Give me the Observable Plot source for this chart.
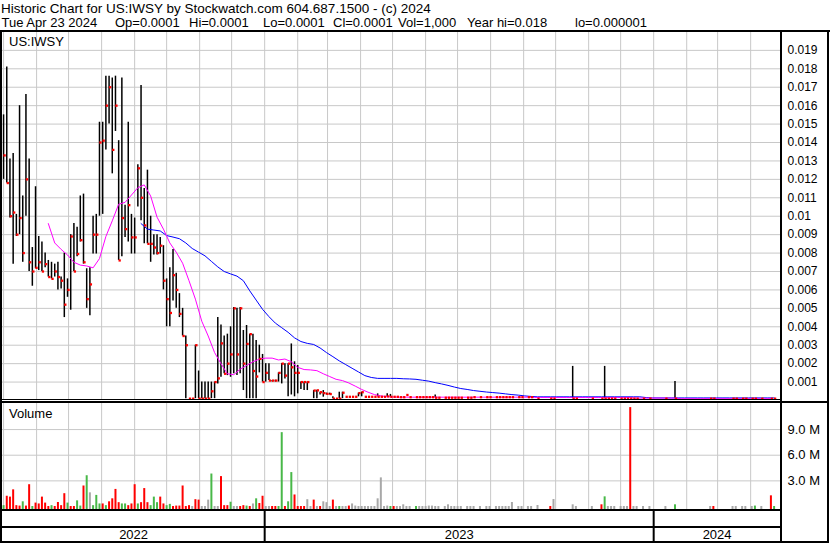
<!DOCTYPE html>
<html><head><meta charset="utf-8">
<script src="https://cdn.jsdelivr.net/npm/d3@7"></script>
<script src="https://cdn.jsdelivr.net/npm/@observablehq/plot@0.6"></script>
<style>
html,body{margin:0;padding:0;background:#fff;}
#wrap{position:relative;width:830px;height:543px;overflow:hidden;font-family:"Liberation Sans",Arial,sans-serif;color:#000;background:#fff;}
.ln{position:absolute;background:#000;}
.t{position:absolute;white-space:pre;line-height:13px;font-size:13.5px;}
.t2{position:absolute;white-space:pre;line-height:13px;font-size:13px;}
.lbl{position:absolute;white-space:pre;line-height:13px;font-size:13px;}
</style></head><body><div id="wrap"></div>
<script>
const _ = null;

// ---- header texts ----
const titleLine = "Historic Chart for US:IWSY by Stockwatch.com 604.687.1500 - (c) 2024";
const infoItems = ["Tue Apr 23 2024", "Op=0.0001", "Hi=0.0001", "Lo=0.0001", "Cl=0.0001", "Vol=1,000", "Year hi=0.018", "lo=0.000001"];
const symbolLabel = "US:IWSY";
const volumeLabel = "Volume";

// ---- bars: one every 3 calendar days starting 2022-05-01 (prices in units of 0.001) ----
const hiMil = [
15.5,18.1,13.1,13.4,10.1,16.0,11.1,16.6,13.1,8.3,
11.6,8.9,8.6,8.0,7.6,7.5,7.4,7.5,6.7,8.0,
6.6,9.0,9.6,9.4,11.1,11.2,7.15,7.2,10.0,10.1,
15.1,15.1,17.6,17.6,17.5,17.6,14.1,17.5,10.6,15.1,
10.1,9.9,12.8,17.1,11.5,12.5,10.0,9.0,9.0,8.85,
8.4,6.6,7.2,8.2,6.9,5.8,5.0,3.5,0.1,0.1,
3.0,1.6,1.0,1.0,1.0,1.0,1.0,4.5,4.1,3.5,
3.6,4.0,5.05,5.0,5.05,3.8,4.07,3.6,3.6,3.25,
3.0,2.5,2.0,2.0,1.08,1.1,1.5,2.0,2.0,2.0,
3.07,2.1,1.9,1.0,1.0,1.0,_,0.54,0.55,0.45,
0.54,0.4,0.4,0.2,0.1,0.45,0.45,0.2,0.2,0.2,
0.2,0.4,0.45,0.2,0.2,0.2,0.2,0.36,0.2,0.2,
0.36,0.33,0.2,0.2,
.18,.18,.3,.18,_,.18,.18,.18,.18,.18,
.18,.3,.15,_,.15,.15,.15,.15,.15,.15,
_,.15,.15,.18,_,.18,_,.18,.18,_,
.18,.18,.18,.18,.18,.18,_,.18,.18,_,
.18,.18,_,.1,_,_,_,.1,.1,_,
_,_,_,_,1.85,.1,_,_,_,_,
.1,_,_,.1,1.85,.1,.1,.1,_,.1,
.1,.1,.1,.1,.1,_,.1,_,.1,_,
_,_,_,.1,_,_,1.03,_,_,_,
_,_,_,_,_,_,_,.1,.1,_,
_,_,_,_,.1,.1,_,.1,.1,_,
.1,.1,_,.1,_,_,.1,.1];
const loMil = [
12.0,11.8,9.9,7.4,8.9,9.0,7.5,10.0,7.0,6.2,
7.15,7.05,7.0,7.2,6.7,6.6,6.7,6.0,6.05,4.5,
5.6,4.9,7.0,7.8,8.6,7.4,5.0,4.6,7.95,7.95,
10.0,10.1,13.6,15.0,12.3,14.6,7.6,7.8,8.85,8.6,
7.95,7.95,10.5,9.75,8.5,8.5,7.5,7.9,7.9,7.95,
6.0,4.0,4.0,5.4,5.0,4.5,3.5,0.1,0.1,0.1,
0.1,0.1,0.1,0.1,0.1,0.1,0.1,0.9,1.26,1.45,
1.35,1.26,1.45,1.35,1.45,0.54,0.1,0.1,0.1,0.1,
1.5,1.0,1.0,1.08,1.0,1.0,1.0,0.9,1.17,0.2,
0.3,0.2,0.36,0.6,0.54,0.54,_,0.1,0.1,0.3,
0.18,0.3,0.3,0.1,0.1,0.1,0.1,0.2,0.2,0.2,
0.2,0.2,0.2,0.2,0.2,0.2,0.2,0.2,0.2,0.2,
0.2,0.2,0.2,0.2,
.18,.18,.3,.18,_,.18,.18,.18,.18,.18,
.18,.15,.15,_,.15,.15,.15,.15,.15,.15,
_,.15,.15,.18,_,.18,_,.18,.18,_,
.18,.18,.18,.18,.18,.18,_,.18,.18,_,
.18,.18,_,.1,_,_,_,.1,.1,_,
_,_,_,_,.1,.1,_,_,_,_,
.1,_,_,.1,.1,.1,.1,.1,_,.1,
.1,.1,.1,.1,.1,_,.1,_,.1,_,
_,_,_,.1,_,_,.1,_,_,_,
_,_,_,_,_,_,_,.1,.1,_,
_,_,_,_,.1,.1,_,.1,.1,_,
.1,.1,_,.1,_,_,.1,.1];
const clMil = [
13.3,11.8,10.0,10.2,9.0,9.9,8.0,12.0,7.5,7.0,
7.2,7.5,7.0,7.4,6.7,6.6,7.0,6.7,6.5,5.2,
6.0,8.9,7.0,7.95,8.7,7.5,5.5,6.3,9.0,9.0,
14.0,14.1,16.0,17.0,13.6,16.0,7.6,9.9,9.3,10.6,
8.85,8.85,12.6,11.0,9.5,8.5,8.5,8.3,8.0,8.4,
6.5,5.5,4.75,6.8,6.0,4.7,3.5,3.0,0.1,0.1,
3.0,0.1,0.1,0.1,0.1,0.5,1.0,1.2,3.1,1.45,
2.0,2.5,5.0,2.5,5.0,2.0,3.07,3.6,1.6,1.3,
2.26,1.0,1.5,1.08,1.08,1.08,1.5,2.0,1.35,2.0,
1.8,1.5,1.5,1.0,1.0,1.0,_,0.54,0.55,0.45,
0.4,0.36,0.35,0.1,0.1,0.1,0.42,0.2,0.2,0.2,
0.2,0.4,0.45,0.2,0.2,0.2,0.2,0.2,0.2,0.2,
0.22,0.2,0.2,0.2,
.18,.18,.3,.18,_,.18,.18,.18,.18,.18,
.18,.15,.15,_,.15,.15,.15,.15,.15,.15,
_,.15,.15,.18,_,.18,_,.18,.18,_,
.18,.18,.18,.18,.18,.18,_,.18,.18,_,
.18,.18,_,.1,_,_,_,.1,.1,_,
_,_,_,_,.1,.1,_,_,_,_,
.1,_,_,.1,.1,.1,.1,.1,_,.1,
.1,.1,.1,.1,.1,_,.1,_,.1,_,
_,_,_,.1,_,_,.1,_,_,_,
_,_,_,_,_,_,_,.1,.1,_,
_,_,_,_,.1,.1,_,.1,.1,_,
.1,.1,_,.1,_,_,.1,.1];

// volume in millions of shares, one per bar
const volM = [
0.1,1.2,1.1,1.95,0.1,0.05,0.55,0.05,2.55,0,
0.4,0.3,1.1,0.4,0,0.1,0,0.47,0.1,1.5,
0.4,0,0,0.66,0.05,2.4,3.6,1.6,0.1,1.3,
0.3,0.3,0.1,0.55,0.9,2.0,0.45,0.3,0.3,0.1,
0.3,2.55,0.3,0.45,2.1,0.45,0.1,1.1,0.45,1.1,
0.3,0.1,0.25,0,0.05,0.05,2.4,0,0.1,0,
0.8,0.75,0,0,0.75,3.8,0,0,3.5,0.1,
0.1,0.5,0,0,0,0.1,0.05,0,0.3,0.9,
0.35,1.2,0,0,0,0,0,8.64,0,0.55,
3.97,1.35,0,0,0,0.8,0,0.75,0,0,
0.55,0.45,0,0.75,0,0,0,0,0.05,0.3,
0.05,0,0,0,0,0,0,0.9,3.35,0,
0.05,0,0,0,
0,.2,0,0,_,0,0,0,0,.05,
.05,0,0,_,0,.2,0,0,0,0,
_,0,0,0,_,0,_,0,0,_,
0,0,0,0,0,.47,_,0,0,_,
0,0,_,.12,_,_,_,0,.82,_,
_,_,_,_,.2,0,_,_,_,_,
0,_,_,.2,1.13,0,0,0,_,0,
0,0,11.57,0,0,_,0,_,0,_,
_,_,_,0,_,_,.2,_,_,_,
_,_,_,_,_,_,_,0,0,_,
_,_,_,_,0,0,_,0,0,_,
0,.05,_,0,_,_,1.25,0];
// volume bar colour class: r = down, g = up, n = unchanged
const volDir = ("grrrrrgrrg"+"rrrrrgrrrr"+"grrggrgngg"+"grgrrrrggr"+"rrgrrrgggr"+"rggrrrrrrn"+
  "rrnnngnnrr"+"rgnnrrgrng"+"rrnnrrggrg"+"grrrrnnrnr"+"nnnrngnnrn"+"nnnnnnnnnn"+"ngrn"+
  "nnnnngnnnn"+"nnnnnnnnnn"+"nnnnnnnnnn"+"nnnnnnnnnn"+"nnnnnnnrnn"+"nnnnnnnnnn"+
  "nnnrgnnnnn"+"nnrnnnnnnn"+"nnnnnngnnn"+"nnnnnnnnrn"+"nnnnnnnnnn"+"ngnnnnrg").split("");

// moving averages (units of 0.001), sampled every 2nd bar
const maFastStart = 14;
const maFast = [
9.6,8.55,8.2,7.9,7.5,7.35,7.3,7.2,7.7,8.9,
9.75,10.65,10.75,11.15,11.55,11.7,11.1,9.95,9.3,8.55,
8.05,7.45,6.5,5.5,4.3,3.5,2.6,2.0,1.45,1.4,
1.7,1.9,2.1,2.25,2.3,2.3,2.2,2.25,2.1,1.8,
1.68,1.66,1.62,1.45,1.3,1.15,1.08,0.95,0.78,0.6,
0.45,0.32,0.25,0.21,0.19,
.18,.18,.18,.18,.18,.18,.18,.18,.18,.18,.18,.18,.18,.18,.18,.18,.18,.18,.18,.18,.18,
.16,.16,.16,.16,.16,.16,.16,.16,.16,.16,.16,.16,.16,.16,.16,.16,
.13,.13,.13,.13,.13,.13,.13,
.1,.1,.1,.1,.1,.1,.1,.1,.1,.1,.1,.1,.1,.1,.1];
const maSlowStart = 43;
const maSlow = [
9.6,9.3,9.25,9.2,8.95,8.87,8.78,8.55,8.25,8.05,
7.85,7.55,7.25,7.0,6.87,6.75,6.5,5.95,5.45,4.95,
4.55,4.2,3.95,3.7,3.4,3.2,3.1,3.04,2.85,2.6,
2.38,2.15,1.95,1.75,1.55,1.35,1.25,1.2,1.2,1.2,
1.2,1.18,1.17,1.15,1.1,1.05,0.97,0.9,0.82,0.73,
0.65,0.6,0.54,0.5,0.46,0.43,0.4,0.36,0.32,0.29,
0.25,0.22,
.2,.2,.2,.2,.2,.2,.2,.2,.2,.2,.2,.2,.2,.2,.2,.2,.2,
.16,
.14,.14,.14,.14,.14,.14,.14,.14,.14,.14,.14,.14,.14,.14,.14,.14,.14,.14,.14,.14];

// axis ticks
const priceTicks = [0.001,0.002,0.003,0.004,0.005,0.006,0.007,0.008,0.009,0.01,0.011,0.012,0.013,0.014,0.015,0.016,0.017,0.018,0.019];
const volTicks = [3e6, 6e6, 9e6];
const yearLabels = [2022, 2023, 2024];

// ---- build tables ----
const DAY = 864e5;
const day0 = Date.UTC(2022, 4, 1);
const barDate = k => new Date(day0 + k * 3 * DAY);
const bars = hiMil.map((h, k) => ({
  date: barDate(k),
  hi: h == null ? null : h / 1000,
  lo: loMil[k] == null ? null : loMil[k] / 1000,
  cl: clMil[k] == null ? null : clMil[k] / 1000,
  vol: volM[k] == null ? null : volM[k] * 1e6,
  dir: volDir[k]
}));
const fast = maFast.map((v, j) => ({date: barDate(maFastStart + 2 * j), v: v / 1000}));
const slow = maSlow.map((v, j) => ({date: barDate(maSlowStart + 2 * j), v: v / 1000}));

const xDomain = [new Date(Date.UTC(2022, 3, 30)), new Date(Date.UTC(2024, 3, 29))];
const months = d3.utcMonths(xDomain[0], xDomain[1]);
const yearStarts = yearLabels.slice(1).map(y => new Date(Date.UTC(y, 0, 1)));
const yearRows = yearLabels.map(y => {
  const a = Math.max(+xDomain[0], Date.UTC(y, 0, 1));
  const b = Math.min(+xDomain[1], Date.UTC(y + 1, 0, 1));
  return {label: String(y), mid: new Date((a + b) / 2)};
});

const GRID = "#c8c8c8";
const font = `"Liberation Sans", Arial, sans-serif`;
const wrap = document.getElementById("wrap");
function place(svg, top) {
  svg.style.position = "absolute";
  svg.style.left = "0px";
  svg.style.top = top + "px";
  svg.style.background = "transparent";
  svg.style.maxWidth = "none";
  svg.style.overflow = "visible";
  wrap.appendChild(svg);
}

// ---- price panel ----
const price = Plot.plot({
  width: 830, height: 370,
  marginLeft: 2, marginRight: 50, marginTop: 0, marginBottom: 2,
  style: {fontFamily: font, fontSize: "12px", color: "#000", background: "transparent"},
  x: {type: "utc", domain: xDomain, axis: null},
  y: {domain: [0, 0.01997], axis: "right", ticks: priceTicks, tickSize: 0, tickPadding: 7,
      tickFormat: d => String(+d.toFixed(3)), label: null},
  marks: [
    Plot.ruleX(months, {stroke: GRID}),
    Plot.ruleY(priceTicks, {stroke: GRID}),
    Plot.ruleX(bars, {x: "date", y1: "lo", y2: "hi", stroke: "#000", strokeWidth: 1.5}),
    Plot.line(slow, {x: "date", y: "v", stroke: "#0000ff", strokeWidth: 1}),
    Plot.line(fast, {x: "date", y: "v", stroke: "#ff00ff", strokeWidth: 1}),
    Plot.dot(bars, {x: "date", y: "cl", symbol: "square", r: 1.3, fill: "#ff0000", stroke: null, dx: 1})
  ]
});
place(price, 32);

// ---- volume panel ----
const VBASE = -0.35e6;
const volume = Plot.plot({
  width: 830, height: 106,
  marginLeft: 2, marginRight: 50, marginTop: 0, marginBottom: 0,
  style: {fontFamily: font, fontSize: "13px", color: "#000", background: "transparent"},
  x: {type: "utc", domain: xDomain, axis: null},
  y: {domain: [VBASE, 12.05e6], axis: "right", ticks: volTicks, tickSize: 0, tickPadding: 7,
      tickFormat: d => (d / 1e6).toFixed(1) + " M", label: null},
  color: {domain: ["r", "g", "n"], range: ["#ff0000", "#48b848", "#a8a8a8"]},
  marks: [
    Plot.ruleX(months, {stroke: GRID}),
    Plot.ruleY(volTicks, {stroke: GRID}),
    Plot.ruleX(bars.filter(d => d.vol != null), {x: "date", y1: () => VBASE, y2: "vol", stroke: "dir", strokeWidth: 2})
  ]
});
place(volume, 403);

// ---- bottom date rows ----
const bottom = Plot.plot({
  width: 830, height: 34,
  marginLeft: 2, marginRight: 50, marginTop: 0, marginBottom: 0,
  style: {fontFamily: font, fontSize: "13px", color: "#000", background: "transparent"},
  x: {type: "utc", domain: xDomain, axis: null},
  marks: [
    Plot.ruleX(yearStarts, {stroke: "#000", strokeWidth: 2}),
    Plot.text(yearRows, {x: "mid", text: "label", frameAnchor: "top", lineAnchor: "top", dy: 20, fontSize: 13, fill: "#000"})
  ]
});
place(bottom, 509);

// ---- texts ----
function addText(cls, txt, left, top) {
  const d = document.createElement("div");
  d.className = cls; d.textContent = txt;
  d.style.left = left + "px"; d.style.top = top + "px";
  wrap.appendChild(d);
}
addText("t", titleLine, 1, 1.5);
const infoX = [1.5, 115, 189, 263, 333, 398, 467, 575];
infoItems.forEach((s, i) => addText("t2", s, infoX[i], 15.5));
addText("lbl", symbolLabel, 9, 35);
addText("lbl", volumeLabel, 9, 406.5);

// ---- frame lines ----
function line(l, t, w, h) {
  const d = document.createElement("div");
  d.className = "ln";
  Object.assign(d.style, {left: l + "px", top: t + "px", width: w + "px", height: h + "px"});
  wrap.appendChild(d);
}
line(0, 30, 830, 2);      // under header
line(0, 30, 2, 513);      // left
line(780, 30, 2, 513);    // axis column
line(827, 30, 2, 513);    // right
line(2, 399, 778, 1);     // price bottom
line(0, 401, 829, 2);     // volume top
line(0, 509, 780, 2);     // volume bottom
line(0, 526, 780, 2);     // month/year split
line(0, 541, 829, 2);     // bottom
</script>
</body></html>
